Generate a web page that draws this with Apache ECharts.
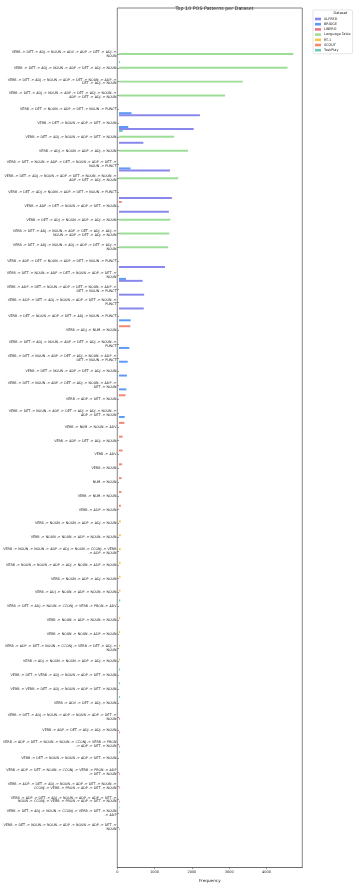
<!DOCTYPE html>
<html>
<head>
<meta charset="utf-8">
<script src="https://cdn.jsdelivr.net/npm/echarts@6/dist/echarts.min.js"></script>
<style>html,body{margin:0;padding:0;background:#fff}#c{width:357px;height:888px}</style>
</head>
<body>
<div id="c"></div>
<script>
const patterns = [
"VERB -> DET -> ADJ -> NOUN -> ADV -> ADP -> DET -> ADJ -> NOUN",
"VERB -> DET -> ADJ -> NOUN -> ADP -> DET -> ADJ -> NOUN",
"VERB -> DET -> ADJ -> NOUN -> ADP -> DET -> NOUN -> ADP -> DET -> ADJ -> NOUN",
"VERB -> DET -> ADJ -> NOUN -> ADP -> DET -> ADJ -> NOUN -> ADP -> DET -> ADJ -> NOUN",
"VERB -> DET -> NOUN -> ADP -> DET -> NOUN -> PUNCT",
"VERB -> DET -> NOUN -> ADP -> DET -> NOUN",
"VERB -> DET -> ADJ -> NOUN -> ADP -> DET -> NOUN",
"VERB -> ADJ -> NOUN -> ADP -> ADJ -> NOUN",
"VERB -> DET -> NOUN -> ADP -> DET -> NOUN -> ADP -> DET -> NOUN -> PUNCT",
"VERB -> DET -> ADJ -> NOUN -> ADP -> DET -> NOUN -> NOUN -> ADP -> DET -> ADJ -> NOUN",
"VERB -> DET -> ADJ -> NOUN -> ADP -> DET -> NOUN -> PUNCT",
"VERB -> ADP -> DET -> NOUN -> ADP -> DET -> NOUN",
"VERB -> DET -> ADJ -> NOUN -> ADP -> ADJ -> NOUN",
"VERB -> DET -> ADJ -> NOUN -> ADP -> DET -> ADJ -> ADJ -> NOUN -> ADP -> DET -> ADJ -> NOUN",
"VERB -> DET -> ADJ -> NOUN -> ADJ -> ADP -> DET -> ADJ -> NOUN",
"VERB -> ADP -> DET -> NOUN -> ADP -> DET -> NOUN -> PUNCT",
"VERB -> DET -> NOUN -> ADP -> DET -> NOUN -> ADP -> DET -> NOUN",
"VERB -> ADP -> DET -> NOUN -> ADP -> DET -> NOUN -> ADP -> DET -> NOUN -> PUNCT",
"VERB -> ADP -> DET -> ADJ -> NOUN -> ADP -> DET -> NOUN -> PUNCT",
"VERB -> DET -> NOUN -> ADP -> DET -> ADJ -> NOUN -> PUNCT",
"VERB -> ADJ -> NUM -> NOUN",
"VERB -> DET -> ADJ -> NOUN -> ADP -> DET -> ADJ -> NOUN -> PUNCT",
"VERB -> DET -> NOUN -> ADP -> DET -> ADJ -> NOUN -> ADP -> DET -> NOUN -> PUNCT",
"VERB -> DET -> NOUN -> ADP -> DET -> ADJ -> NOUN",
"VERB -> DET -> NOUN -> ADP -> DET -> ADJ -> NOUN -> ADP -> DET -> NOUN",
"VERB -> ADP -> DET -> NOUN",
"VERB -> DET -> NOUN -> ADP -> DET -> ADJ -> ADJ -> NOUN -> ADP -> DET -> NOUN",
"VERB -> NUM -> NOUN -> ADV",
"VERB -> ADP -> DET -> ADJ -> NOUN",
"VERB -> ADV",
"VERB -> NOUN",
"NUM -> NOUN",
"VERB -> NUM -> NOUN",
"VERB -> ADP -> NOUN",
"VERB -> NOUN -> NOUN -> ADP -> ADJ -> NOUN",
"VERB -> NOUN -> NOUN -> ADP -> NOUN -> NOUN",
"VERB -> NOUN -> NOUN -> ADP -> ADJ -> NOUN -> CCONJ -> VERB -> ADP -> NOUN",
"VERB -> NOUN -> NOUN -> ADP -> ADJ -> NOUN -> ADP -> NOUN",
"VERB -> NOUN -> ADP -> ADJ -> NOUN",
"VERB -> ADJ -> NOUN -> ADP -> NOUN -> NOUN",
"VERB -> DET -> ADJ -> NOUN -> CCONJ -> VERB -> PRON -> ADV",
"VERB -> NOUN -> ADP -> NOUN -> NOUN",
"VERB -> NOUN -> NOUN -> ADP -> NOUN",
"VERB -> ADP -> DET -> NOUN -> CCONJ -> VERB -> DET -> ADJ -> NOUN",
"VERB -> ADJ -> NOUN -> NOUN -> ADP -> ADJ -> NOUN",
"VERB -> DET -> VERB -> ADJ -> NOUN -> ADP -> DET -> NOUN",
"VERB -> VERB -> DET -> ADJ -> NOUN -> ADP -> DET -> NOUN",
"VERB -> ADV -> DET -> ADJ -> NOUN",
"VERB -> DET -> ADJ -> NOUN -> ADP -> NOUN -> ADP -> DET -> NOUN",
"VERB -> ADP -> DET -> ADJ -> ADJ -> NOUN",
"VERB -> ADP -> DET -> NOUN -> NOUN -> CCONJ -> VERB -> PRON -> ADP -> DET -> NOUN",
"VERB -> DET -> NOUN -> NOUN -> ADP -> DET -> NOUN",
"VERB -> ADP -> DET -> NOUN -> CCONJ -> VERB -> PRON -> ADP -> DET -> NOUN",
"VERB -> ADP -> DET -> ADJ -> NOUN -> ADP -> DET -> NOUN -> CCONJ -> VERB -> PRON -> ADP -> DET -> NOUN",
"VERB -> ADP -> DET -> ADJ -> NOUN -> ADP -> ADP -> DET -> NOUN -> CCONJ -> VERB -> PRON -> ADP -> DET -> NOUN",
"VERB -> DET -> ADJ -> NOUN -> CCONJ -> VERB -> DET -> NOUN -> ADP",
"VERB -> DET -> NOUN -> NOUN -> ADP -> NOUN -> ADP -> DET -> NOUN"
];

const datasets = ["ALFRED", "BRIDGE", "LIBERO", "Language Table", "RT-1", "SCOUT", "TaskPlay"];
const colors = ["#7b7bea", "#4a8ff5", "#e8657f", "#93d98c", "#f0c23a", "#f47a66", "#5bc4b0"];

// values per category (index = position in patterns); '-' = absent
const _ = null;
const alfred = [_,_,_,_,2190,2020,660,_,1380,_,1430,1350,_,_,_,1245,640,680,670,_,_,_,_,_,_,_,_,_,_,_,_,_,_,_,_,_,_,_,_,_,_,_,_,_,_,_,_,_,_,_,_,_,_,_,_,_,_];
const bridge = [_,_,_,_,340,250,_,_,310,_,_,_,_,_,_,_,190,_,_,315,_,280,235,215,200,_,155,_,_,_,_,_,_,_,_,_,_,_,_,_,_,_,_,_,_,_,_,_,_,_,_,_,_,_,_,_,_];
const libero = [_,_,_,_,_,_,_,_,_,_,_,_,_,_,_,_,_,_,_,_,_,_,_,_,_,_,_,_,_,_,_,_,_,_,_,_,_,_,_,_,_,_,_,_,_,_,_,_,22,21,20,_,18,17,16,_,14];
const langTable = [4720,4560,3350,2870,_,_,1490,1870,_,1600,_,_,1390,1360,1330,_,_,_,_,_,_,_,_,_,_,_,_,_,_,_,_,_,_,_,_,_,_,_,_,_,_,_,_,_,_,_,_,_,_,_,_,_,_,_,_,_,_];
const rt1 = [_,_,_,_,_,_,_,_,_,_,_,_,_,_,_,_,_,_,_,_,_,_,_,_,_,_,_,_,_,_,_,_,_,_,50,48,45,42,40,38,_,33,32,30,28,_,_,_,_,_,_,_,_,_,_,_,_];
const scout = [_,_,_,_,_,_,_,_,_,_,_,75,_,_,_,_,_,_,_,_,305,_,_,_,_,175,_,145,98,96,85,70,65,50,_,_,_,_,_,_,_,_,_,_,_,_,_,_,_,_,_,_,_,_,_,_,_];
const taskPlay = [_,25,_,_,_,_,100,_,_,_,_,_,_,_,_,_,_,_,_,_,_,_,_,_,_,_,_,_,_,_,_,_,_,_,_,_,_,_,_,_,35,_,_,_,_,26,25,24,_,_,_,19,_,_,_,15,_];

const xTicks = [0, 1000, 2000, 3000, 4000];
const seriesValues = [alfred, bridge, libero, langTable, rt1, scout, taskPlay];

function wrap(text, width) {
  const words = text.split(' ');
  const lines = [];
  let cur = '';
  for (const w of words) {
    if (cur === '') cur = w;
    else if ((cur + ' ' + w).length <= width) cur += ' ' + w;
    else { lines.push(cur); cur = w; }
  }
  if (cur) lines.push(cur);
  return lines.join('\n');
}

// draw order inside a band, top to bottom
const drawOrder = [6, 5, 4, 3, 2, 1, 0];

const XMAX = 4960;
const chart = echarts.init(document.getElementById('c'), null, {renderer: 'canvas'});
const FONT = 'DejaVu Sans';

const series = drawOrder.map(i => ({
  name: datasets[i],
  type: 'bar',
  xAxisIndex: 1,
  yAxisIndex: 1,
  data: seriesValues[i],
  barGap: '0%',
  barCategoryGap: '0%',
  itemStyle: {color: colors[i], opacity: 0.9},
  emphasis: {disabled: true},
  animation: false
}));

chart.setOption({
  animation: false,
  textStyle: {fontFamily: FONT},
  title: {
    text: 'Top 10 POS Patterns per Dataset',
    left: 209.5, top: 1.5, textAlign: 'center',
    textStyle: {fontSize: 4.8, fontWeight: 'normal', color: '#222', fontFamily: FONT}
  },
  legend: {
    data: datasets,
    orient: 'vertical',
    left: 313, top: 10,
    padding: [7, 2, 1.5, 2],
    itemWidth: 6, itemHeight: 2.6, itemGap: 1.2,
    icon: 'rect',
    borderColor: '#d5d5d5', borderWidth: 0.6, borderRadius: 1,
    selectedMode: false,
    textStyle: {fontSize: 3.4, color: '#222', fontFamily: FONT, lineHeight: 4, padding: [0, 0, 0, -2]}
  },
  graphic: [{
    type: 'text', left: 333.5, top: 11, z: 100,
    style: {text: 'Dataset', fontSize: 3.5, fill: '#222', textAlign: 'center', fontFamily: FONT}
  }],
  grid: [
    {left: 117.3, right: 357 - 302.3, top: 8, bottom: 888 - 873, show: true, borderColor: '#666', borderWidth: 0.8, backgroundColor: '#fff'},
    {left: 117.3, right: 357 - 302.3, top: 47.1, bottom: 888 - 834.2}
  ],
  xAxis: [
    {
      gridIndex: 0, type: 'value', min: 0, max: XMAX, interval: 1000,
      name: 'Frequency', nameLocation: 'middle', nameGap: 8,
      nameTextStyle: {fontSize: 4.2, color: '#222', fontFamily: FONT},
      axisLine: {show: true, lineStyle: {color: '#666', width: 0.8}},
      axisTick: {show: true, length: 1.6, lineStyle: {color: '#555', width: 0.6}},
      axisLabel: {fontSize: 3.5, color: '#222', margin: 2.6, showMaxLabel: false,
        formatter: v => (xTicks.indexOf(v) >= 0 ? String(v) : '')},
      splitLine: {show: false}
    },
    {gridIndex: 1, type: 'value', min: 0, max: XMAX, show: false, splitLine: {show: false}}
  ],
  yAxis: [
    {gridIndex: 0, type: 'value', show: false, splitLine: {show: false}},
    {
      gridIndex: 1, type: 'category', inverse: true,
      data: patterns,
      axisLine: {show: false},
      axisTick: {show: true, alignWithLabel: true, length: 1.6, lineStyle: {color: '#555', width: 0.6}},
      axisLabel: {
        interval: 0, fontSize: 3.3, color: '#222', margin: 2.6, lineHeight: 3.9,
        align: 'right', formatter: v => wrap(v, 60), fontFamily: FONT
      },
      splitLine: {show: false}
    }
  ],
  series: series
});
</script>
</body>
</html>
